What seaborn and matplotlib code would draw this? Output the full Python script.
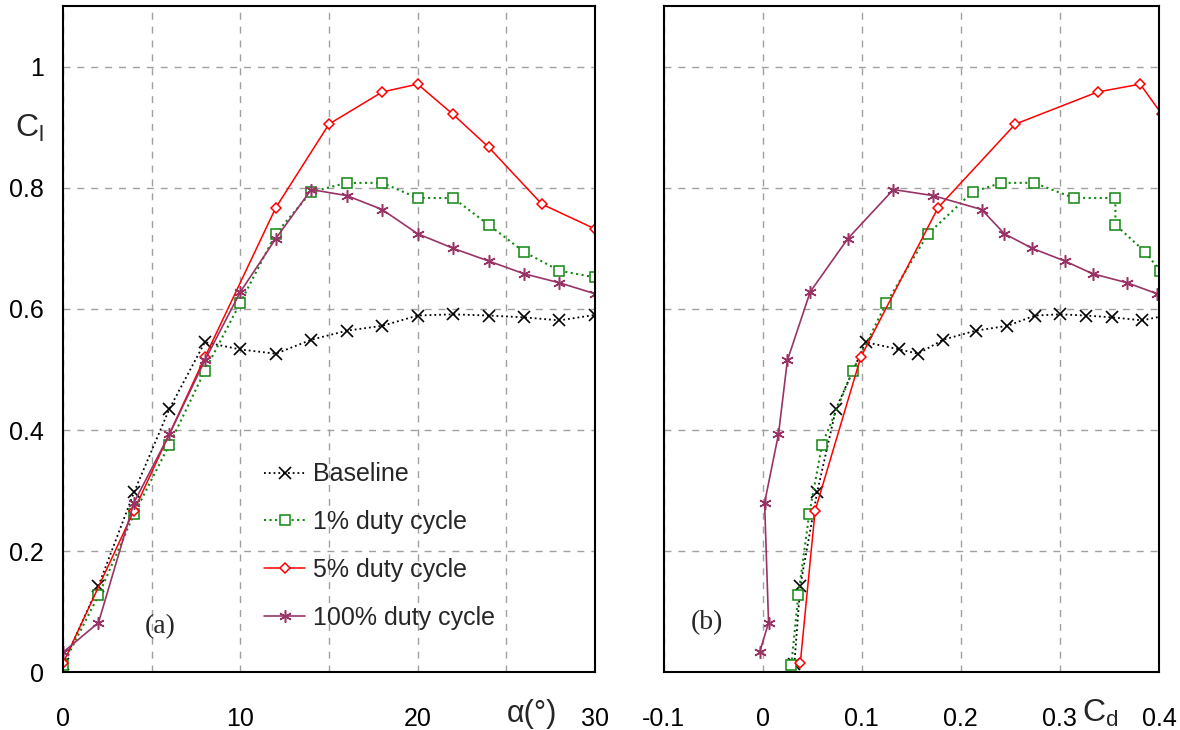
import matplotlib
matplotlib.use("Agg")
import matplotlib.pyplot as plt
import seaborn as sns
import numpy as np

# angle of attack (deg)
alpha_base = [0, 2, 4, 6, 8, 10, 12, 14, 16, 18, 20, 22, 24, 26, 28, 30]
alpha_5 = [0, 4, 8, 12, 15, 18, 20, 22, 24, 27, 30]

# lift coefficient
cl_base = [0.013, 0.143, 0.297, 0.435, 0.545, 0.533, 0.526, 0.549, 0.564, 0.572,
           0.589, 0.591, 0.589, 0.586, 0.581, 0.590]
cl_1 = [0.012, 0.127, 0.261, 0.376, 0.498, 0.610, 0.724, 0.793, 0.808, 0.808,
        0.783, 0.783, 0.739, 0.694, 0.663, 0.652]
cl_5 = [0.015, 0.267, 0.520, 0.767, 0.905, 0.958, 0.971, 0.921, 0.867, 0.773, 0.732]
cl_100 = [0.033, 0.082, 0.280, 0.393, 0.515, 0.628, 0.716, 0.797, 0.787, 0.764,
          0.724, 0.700, 0.679, 0.658, 0.643, 0.625]

# drag coefficient
cd_base = [0.032, 0.038, 0.055, 0.074, 0.104, 0.138, 0.157, 0.182, 0.215, 0.247,
           0.275, 0.300, 0.326, 0.353, 0.383, 0.410]
cd_1 = [0.029, 0.036, 0.047, 0.060, 0.091, 0.125, 0.167, 0.212, 0.241, 0.274,
        0.314, 0.356, 0.356, 0.386, 0.401, 0.420]
cd_5 = [0.038, 0.053, 0.099, 0.177, 0.255, 0.338, 0.381, 0.403, 0.440, 0.480, 0.520]
cd_100 = [-0.003, 0.006, 0.002, 0.016, 0.025, 0.048, 0.086, 0.132, 0.172, 0.221,
          0.244, 0.272, 0.305, 0.333, 0.368, 0.398]

labels = ["Baseline", "1% duty cycle", "5% duty cycle", "100% duty cycle"]

sns.set_style("white")
plt.rcParams["font.family"] = ["Liberation Sans", "DejaVu Sans"]
plt.rcParams["mathtext.fontset"] = "custom"
plt.rcParams["mathtext.rm"] = "Liberation Sans"
plt.rcParams["mathtext.it"] = "Liberation Sans"

fig = plt.figure(figsize=(11.8, 7.3), dpi=100)
ax1 = fig.add_axes([0.0534, 0.079, 0.4508, 0.9128])
ax2 = fig.add_axes([0.5623, 0.079, 0.4199, 0.9128])

styles = [
    dict(color="black", linestyle=":", marker="x", markersize=8, lw=1.3,
         mec="black", mew=1.2),
    dict(color="#118811", linestyle=":", marker="s", markersize=6.5, lw=1.5,
         mfc="white", mec="#118811", mew=1.1),
    dict(color="#ff0000", linestyle="-", marker="D", markersize=5.5, lw=1.1,
         mfc="white", mec="#ff0000", mew=1.1),
    dict(color="#993366", linestyle="-", marker=(6, 2, 0), markersize=9, lw=1.2,
         mec="#993366", mew=1.1),
]

left = [(alpha_base, cl_base), (alpha_base, cl_1), (alpha_5, cl_5), (alpha_base, cl_100)]
right = [(cd_base, cl_base), (cd_1, cl_1), (cd_5, cl_5), (cd_100, cl_100)]

for (x, y), st, lab in zip(left, styles, labels):
    sns.lineplot(x=x, y=y, sort=False, estimator=None, ax=ax1, label=lab, **st)
for (x, y), st in zip(right, styles):
    sns.lineplot(x=x, y=y, sort=False, estimator=None, ax=ax2, **st)

grid_kw = dict(color="#a0a0a0", linestyle=(0, (5, 5)), linewidth=1.0)

ax1.set_xlim(0, 30)
ax1.set_ylim(0, 1.1)
ax1.set_xticks([0, 10, 20, 30])
ax1.set_xticks([5, 15, 25], minor=True)
ax1.set_yticks([0, 0.2, 0.4, 0.6, 0.8, 1.0])
ax1.set_yticklabels(["0", "0.2", "0.4", "0.6", "0.8", "1"])
ax1.grid(True, which="both", **grid_kw)
ax1.tick_params(axis="x", which="minor", length=0)

ax2.set_xlim(-0.1, 0.4)
ax2.set_ylim(0, 1.1)
ax2.set_xticks([-0.1, 0, 0.1, 0.2, 0.3, 0.4])
ax2.set_xticklabels(["-0.1", "0", "0.1", "0.2", "0.3", "0.4"])
ax2.set_yticks([0, 0.2, 0.4, 0.6, 0.8, 1.0])
ax2.set_yticklabels([])
ax2.grid(True, **grid_kw)

for ax in (ax1, ax2):
    ax.set_xlabel("")
    ax.set_ylabel("")
    ax.set_axisbelow(True)
    for sp in ax.spines.values():
        sp.set_color("black")
        sp.set_linewidth(1.5)
    ax.tick_params(axis="both", which="major", direction="in", length=8, width=1.3,
                   labelsize=18, colors="black")
    ax.tick_params(axis="x", pad=25)
    ax.tick_params(axis="y", pad=14)

ax1.legend(loc="upper left", bbox_to_anchor=(0.378, 0.315), frameon=False,
           fontsize=18, numpoints=1, handlelength=1.65, handletextpad=0.3,
           labelspacing=0.95, borderpad=0, borderaxespad=0)

ax1.text(-0.09, 0.804, r"$\mathrm{C_l}$", transform=ax1.transAxes,
         ha="left", va="baseline", fontsize=23)
ax1.text(0.881, -0.074, "α(°)", transform=ax1.transAxes,
         ha="center", va="baseline", fontsize=22)
ax2.text(0.881, -0.074, r"$\mathrm{C_d}$", transform=ax2.transAxes,
         ha="center", va="baseline", fontsize=23)

ax1.text(0.182, 0.068, "(a)", transform=ax1.transAxes, ha="center", va="center",
         fontsize=20, family="Liberation Serif")
ax2.text(0.088, 0.074, "(b)", transform=ax2.transAxes, ha="center", va="center",
         fontsize=20, family="Liberation Serif")

fig.savefig("out.png", dpi=100)
